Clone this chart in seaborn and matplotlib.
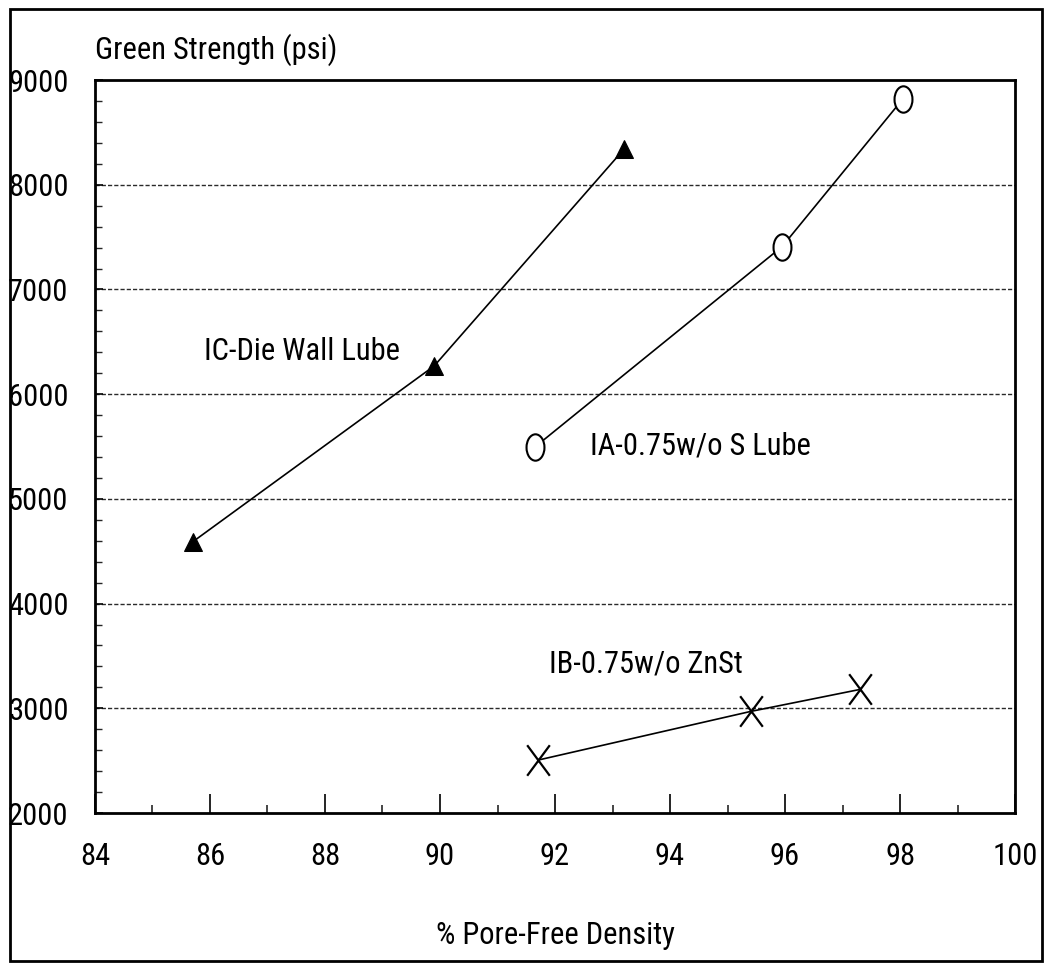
import matplotlib
matplotlib.use("Agg")
import matplotlib.pyplot as plt
from matplotlib.patches import Rectangle
from matplotlib.path import Path
from matplotlib.transforms import Affine2D
from matplotlib.ticker import MultipleLocator
import seaborn as sns

# values
ic_density = [85.7, 89.9, 93.2]
ic_strength = [4590, 6270, 8340]
ia_density = [91.65, 95.95, 98.05]
ia_strength = [5495, 7410, 8820]
ib_density = [91.7, 95.4, 97.3]
ib_strength = [2505, 2970, 3180]

series_names = ["IC-Die Wall Lube", "IA-0.75w/o S Lube", "IB-0.75w/o ZnSt"]
label_pos = [(85.9, 6410), (92.6, 5505), (91.9, 3420)]

x_ticks = [84, 86, 88, 90, 92, 94, 96, 98, 100]
y_ticks = [2000, 3000, 4000, 5000, 6000, 7000, 8000, 9000]

sns.set_theme(style="white")
plt.rcParams['font.family'] = ['Roboto Condensed', 'Liberation Sans', 'DejaVu Sans']
FS = 22

# the scan stretched the markers vertically
oval = Path.unit_circle().transformed(Affine2D().scale(0.68, 1.0))
tall_x = Path([(-0.37, -0.5), (0.37, 0.5), (-0.37, 0.5), (0.37, -0.5)],
              [Path.MOVETO, Path.LINETO, Path.MOVETO, Path.LINETO])

fig = plt.figure(figsize=(10.48, 9.64), dpi=100)
ax = fig.add_axes([0.0906, 0.1566, 0.878, 0.7604])

line_kw = dict(color="black", linewidth=1.2, ax=ax, legend=False)
sns.lineplot(x=ic_density, y=ic_strength, marker="^", markersize=13,
             markerfacecolor="black", markeredgecolor="black", **line_kw)
sns.lineplot(x=ia_density, y=ia_strength, marker=oval, markersize=19,
             markerfacecolor="white", markeredgecolor="black", markeredgewidth=1.5, **line_kw)
sns.lineplot(x=ib_density, y=ib_strength, marker=tall_x, markersize=22,
             markerfacecolor="none", markeredgecolor="black", markeredgewidth=1.6, **line_kw)

for name, (lx, ly) in zip(series_names, label_pos):
    ax.text(lx, ly, name, fontsize=FS, va="center", ha="left", color="black")

ax.set_xlim(84, 100)
ax.set_ylim(2000, 9000)
ax.set_xticks(x_ticks)
ax.set_yticks(y_ticks)
ax.xaxis.set_minor_locator(MultipleLocator(1))
ax.yaxis.set_minor_locator(MultipleLocator(200))

for y in y_ticks[1:-1]:
    ax.axhline(y, color="#2a2a2a", linewidth=1.0, linestyle=(0, (3, 1.5)), zorder=0)

ax.tick_params(axis="x", which="major", direction="in", length=14, width=1.2,
               pad=21, labelsize=FS, colors="black")
ax.tick_params(axis="x", which="minor", direction="in", length=6, width=1.2)
ax.tick_params(axis="y", which="major", direction="in", length=6, width=1.2,
               pad=19, labelsize=FS, colors="black")
ax.tick_params(axis="y", which="minor", direction="in", length=5, width=1.0)
ax.tick_params(bottom=True, left=True, which="both")

for side in ["top", "bottom", "left", "right"]:
    ax.spines[side].set_color("black")
    ax.spines[side].set_linewidth(2.0)

ax.set_xlabel("% Pore-Free Density", fontsize=FS, color="black", labelpad=36)
ax.set_ylabel("")
ax.text(0, 1.041, "Green Strength (psi)", transform=ax.transAxes, fontsize=FS,
        ha="left", va="center", color="black")

fig.patches.append(Rectangle((0.0095, 0.003), 0.985, 0.988, transform=fig.transFigure,
                             fill=False, edgecolor="black", linewidth=2.0))

fig.savefig("out.png", dpi=100, facecolor="white")
